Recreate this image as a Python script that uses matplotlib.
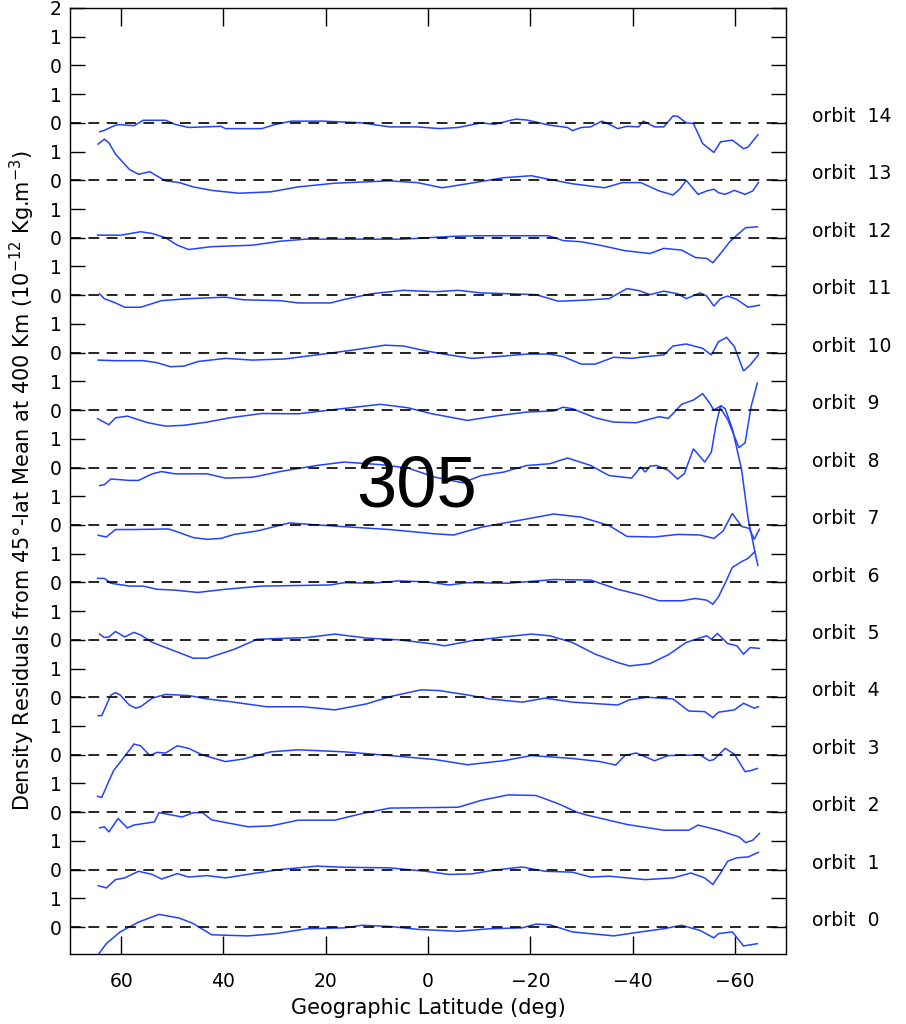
import matplotlib
matplotlib.use("Agg")
import matplotlib.pyplot as plt
import matplotlib.transforms as mtransforms

# ---------------- data (latitude in deg, residual in 1e-12 kg/m^3) ----------------
orbit0_lat = [64.6, 62.9, 60.2, 56.6, 52.6, 48.6, 45.9, 42.3, 35.2, 29.8, 23.6, 16.4, 12.9, 7.5, 2.1, -5.9, -12.1, -18.4, -21.1, -23.8, -28.2, -36.3, -41.6, -46.1, -49.6, -53.2, -55.9, -56.8, -59.5, -61.7, -64.4]
orbit0_val = [-0.99, -0.58, -0.17, 0.17, 0.44, 0.31, 0.12, -0.27, -0.31, -0.23, -0.06, -0.03, 0.06, 0.02, -0.08, -0.15, -0.06, -0.03, 0.10, 0.08, -0.17, -0.31, -0.17, -0.06, 0.06, -0.12, -0.38, -0.23, -0.17, -0.66, -0.58]

orbit1_lat = [64.5, 62.9, 61.1, 59.3, 56.6, 53.9, 52.1, 49.0, 46.8, 43.2, 39.6, 34.3, 28.9, 21.8, 16.4, 7.5, 0.4, -4.1, -8.6, -13.0, -18.4, -22.9, -28.2, -31.8, -35.4, -42.5, -47.9, -51.4, -54.1, -55.7, -57.2, -58.6, -60.4, -62.6, -64.6]
orbit1_val = [-0.56, -0.64, -0.35, -0.29, -0.06, -0.17, -0.33, -0.14, -0.26, -0.21, -0.29, -0.14, 0.00, 0.12, 0.08, 0.06, -0.06, -0.17, -0.15, -0.02, 0.09, -0.06, -0.09, -0.26, -0.23, -0.35, -0.29, -0.12, -0.29, -0.52, -0.12, 0.29, 0.41, 0.44, 0.60]

orbit2_lat = [64.2, 63.3, 62.4, 60.6, 58.8, 57.5, 53.5, 52.6, 50.4, 48.1, 45.9, 44.1, 42.3, 35.2, 30.7, 25.4, 18.2, 12.9, 7.5, -5.9, -10.4, -15.7, -21.1, -25.5, -29.1, -31.0, -38.9, -46.1, -51.0, -52.8, -56.8, -60.8, -62.1, -63.5, -64.8]
orbit2_val = [-0.55, -0.51, -0.69, -0.22, -0.55, -0.45, -0.34, -0.02, -0.09, -0.17, -0.02, -0.02, -0.27, -0.51, -0.48, -0.28, -0.28, -0.05, 0.14, 0.17, 0.41, 0.60, 0.58, 0.29, 0.00, -0.10, -0.43, -0.63, -0.63, -0.45, -0.63, -0.86, -1.06, -0.98, -0.74]

orbit3_lat = [64.6, 63.8, 61.5, 59.7, 57.5, 56.2, 54.4, 53.0, 51.3, 49.0, 46.8, 44.1, 39.6, 36.1, 30.7, 25.4, 16.4, 7.5, -1.4, -7.7, -14.8, -20.2, -28.2, -33.6, -36.7, -38.5, -40.7, -44.3, -47.0, -53.2, -55.0, -55.9, -58.1, -59.9, -62.0, -63.0, -64.4]
orbit3_val = [-1.45, -1.49, -0.56, -0.15, 0.37, 0.31, -0.03, 0.08, 0.06, 0.31, 0.22, -0.01, -0.24, -0.15, 0.10, 0.17, 0.10, -0.03, -0.17, -0.35, -0.21, -0.03, -0.13, -0.24, -0.36, -0.03, 0.06, -0.21, -0.03, -0.01, -0.21, -0.17, 0.22, 0.02, -0.59, -0.56, -0.48]

orbit4_lat = [64.5, 63.8, 62.0, 61.1, 60.2, 58.4, 57.1, 56.2, 53.9, 51.3, 46.8, 43.2, 38.8, 31.6, 24.5, 18.2, 12.0, 7.5, 1.3, -2.3, -7.7, -12.1, -18.4, -22.9, -28.2, -37.1, -39.4, -42.9, -47.9, -51.0, -54.1, -55.7, -56.8, -59.9, -61.7, -63.8, -64.6]
orbit4_val = [-0.64, -0.64, 0.08, 0.16, 0.08, -0.27, -0.38, -0.33, -0.03, 0.10, 0.06, -0.06, -0.15, -0.33, -0.33, -0.44, -0.23, 0.02, 0.26, 0.23, 0.08, -0.06, -0.17, -0.03, -0.17, -0.27, -0.09, 0.00, -0.06, -0.48, -0.50, -0.71, -0.52, -0.44, -0.21, -0.38, -0.33]

orbit5_lat = [64.2, 63.3, 62.4, 61.1, 59.3, 57.5, 56.2, 53.9, 50.4, 45.9, 43.2, 37.9, 33.4, 23.6, 18.2, 12.0, 5.7, -1.4, -3.2, -8.6, -14.8, -20.2, -23.8, -28.2, -32.7, -37.1, -39.4, -43.4, -47.0, -50.5, -54.5, -55.4, -56.6, -58.6, -60.4, -61.7, -63.0, -64.8]
orbit5_val = [0.20, 0.08, 0.10, 0.29, 0.10, 0.26, 0.17, -0.09, -0.33, -0.64, -0.64, -0.33, 0.02, 0.08, 0.20, 0.06, 0.00, -0.15, -0.21, -0.03, 0.10, 0.20, 0.14, -0.09, -0.50, -0.79, -0.91, -0.83, -0.52, -0.09, 0.14, 0.02, 0.22, -0.13, -0.21, -0.50, -0.27, -0.30]

orbit6_lat = [64.6, 63.3, 62.0, 58.4, 55.7, 53.0, 49.5, 45.0, 39.6, 32.5, 19.1, 16.4, 11.1, 5.7, 0.4, -4.1, -7.7, -15.7, -24.6, -31.8, -37.1, -41.6, -45.2, -49.6, -52.3, -54.5, -55.7, -56.8, -58.1, -59.5, -61.3, -62.6, -63.9]
orbit6_val = [0.14, 0.14, -0.03, -0.13, -0.13, -0.24, -0.27, -0.35, -0.24, -0.13, -0.09, -0.01, -0.03, 0.05, 0.02, -0.09, -0.01, -0.03, 0.10, 0.08, -0.24, -0.44, -0.64, -0.64, -0.56, -0.62, -0.76, -0.50, -0.03, 0.52, 0.72, 0.84, 1.07]

orbit7_lat = [64.5, 62.9, 61.1, 57.5, 50.8, 49.5, 45.9, 43.2, 40.5, 37.9, 33.4, 27.1, 20.0, 7.5, -1.4, -5.0, -10.4, -17.5, -24.6, -30.0, -35.4, -38.9, -44.3, -48.8, -53.2, -55.9, -57.7, -59.5, -61.3, -62.8, -63.8, -64.8]
orbit7_val = [-0.36, -0.42, -0.16, -0.16, -0.14, -0.21, -0.44, -0.50, -0.47, -0.33, -0.21, 0.07, -0.02, -0.16, -0.31, -0.35, -0.08, 0.15, 0.38, 0.27, -0.02, -0.40, -0.42, -0.33, -0.35, -0.47, -0.21, 0.40, -0.05, -0.12, -0.50, -0.15]

orbit8_lat = [64.2, 63.3, 62.0, 58.4, 56.6, 53.9, 52.1, 49.5, 43.2, 39.6, 34.3, 28.9, 21.8, 16.4, 9.3, 3.9, -1.4, -6.8, -10.4, -14.8, -19.3, -23.8, -27.3, -31.8, -35.4, -39.8, -41.6, -42.5, -43.4, -44.7, -47.0, -48.8, -50.1, -51.9, -54.1, -55.4, -56.3, -57.2, -58.1, -59.5, -61.3, -62.6, -64.0, -64.5]
orbit8_val = [-0.63, -0.60, -0.40, -0.45, -0.45, -0.22, -0.14, -0.22, -0.22, -0.37, -0.34, -0.14, 0.07, 0.19, 0.10, -0.02, -0.34, -0.53, -0.28, -0.16, 0.07, 0.13, 0.33, 0.07, -0.28, -0.37, 0.01, -0.16, 0.05, 0.07, -0.10, -0.40, -0.22, 0.65, 0.19, 0.53, 1.47, 2.16, 2.05, 1.35, -0.05, -1.79, -3.00, -3.41]

orbit9_lat = [64.6, 62.4, 61.1, 58.8, 54.8, 51.3, 47.7, 43.2, 38.8, 32.5, 25.4, 18.2, 9.3, 3.9, -0.5, -7.7, -13.9, -19.3, -24.6, -26.4, -28.2, -32.7, -36.3, -40.7, -45.2, -47.0, -49.6, -51.9, -53.7, -55.0, -55.9, -57.0, -58.6, -60.8, -62.0, -63.2, -64.4]
orbit9_val = [-0.30, -0.51, -0.27, -0.21, -0.44, -0.56, -0.53, -0.42, -0.27, -0.12, -0.13, 0.02, 0.20, 0.08, -0.12, -0.36, -0.19, -0.07, -0.03, 0.10, 0.05, -0.27, -0.42, -0.44, -0.23, -0.29, 0.20, 0.35, 0.57, 0.26, 0.00, 0.12, -0.33, -1.31, -1.14, 0.14, 0.94]

orbit10_lat = [64.5, 61.1, 55.7, 53.0, 50.4, 47.7, 45.0, 39.6, 34.3, 28.0, 21.8, 14.6, 8.4, 4.8, 0.4, -4.1, -8.6, -14.8, -19.3, -23.8, -26.4, -30.0, -32.7, -36.3, -39.8, -42.5, -46.1, -47.9, -50.5, -53.7, -55.4, -56.8, -58.4, -59.9, -61.7, -63.0, -64.6]
orbit10_val = [-0.26, -0.28, -0.28, -0.35, -0.49, -0.47, -0.31, -0.20, -0.26, -0.22, -0.08, 0.09, 0.26, 0.23, 0.06, -0.08, -0.20, -0.12, -0.05, -0.05, -0.14, -0.40, -0.40, -0.16, -0.20, -0.14, -0.08, 0.23, 0.30, 0.15, -0.08, 0.38, 0.53, 0.21, -0.64, -0.43, -0.08]

orbit11_lat = [64.2, 63.3, 61.1, 59.3, 56.2, 52.1, 46.8, 39.6, 36.1, 28.9, 25.4, 19.1, 16.4, 11.1, 4.8, -1.4, -5.9, -10.4, -21.1, -25.5, -30.9, -35.4, -38.9, -41.2, -43.4, -46.1, -48.8, -50.5, -53.2, -54.5, -55.9, -57.2, -58.6, -60.4, -62.6, -64.8]
orbit11_val = [0.05, -0.12, -0.27, -0.42, -0.42, -0.19, -0.12, -0.07, -0.16, -0.19, -0.27, -0.27, -0.15, 0.05, 0.17, 0.12, 0.17, 0.08, 0.02, -0.21, -0.17, -0.12, 0.23, 0.16, 0.02, 0.14, 0.05, -0.12, 0.08, -0.03, -0.38, -0.12, -0.03, -0.15, -0.42, -0.35]

orbit12_lat = [64.6, 60.0, 56.2, 54.0, 51.3, 49.0, 46.8, 42.3, 34.3, 28.9, 24.0, 15.0, 5.0, -5.0, -10.0, -16.0, -23.5, -26.5, -30.0, -33.6, -38.5, -43.4, -46.1, -49.6, -52.3, -54.5, -55.7, -57.2, -59.0, -60.4, -62.1, -64.4]
orbit12_val = [0.09, 0.09, 0.21, 0.15, 0.00, -0.26, -0.41, -0.31, -0.26, -0.12, -0.05, -0.05, -0.05, 0.05, 0.07, 0.07, 0.07, -0.10, -0.14, -0.26, -0.45, -0.55, -0.37, -0.43, -0.69, -0.72, -0.87, -0.55, -0.14, 0.09, 0.35, 0.38]

orbit13_lat = [64.5, 63.3, 62.4, 61.1, 58.4, 56.6, 54.4, 53.0, 51.3, 48.6, 45.9, 42.3, 37.0, 30.7, 25.4, 18.2, 7.5, 2.1, -2.8, -7.7, -14.8, -20.2, -23.8, -28.2, -34.5, -38.0, -41.6, -45.2, -47.9, -49.2, -50.5, -52.8, -54.5, -55.9, -56.8, -58.1, -59.9, -62.0, -63.5, -64.6]
orbit13_val = [1.26, 1.43, 1.31, 0.91, 0.38, 0.21, 0.30, 0.15, -0.02, -0.08, -0.23, -0.35, -0.45, -0.40, -0.23, -0.10, -0.02, -0.08, -0.26, -0.12, 0.09, 0.16, 0.03, -0.12, -0.26, -0.08, -0.08, -0.37, -0.51, -0.31, 0.00, -0.49, -0.37, -0.31, -0.43, -0.49, -0.35, -0.49, -0.37, -0.08]

orbit14_lat = [64.2, 63.3, 61.1, 60.2, 57.5, 55.7, 51.3, 49.5, 46.8, 40.5, 39.6, 32.5, 29.8, 26.7, 20.4, 16.4, 12.9, 7.5, 2.1, -2.3, -5.9, -10.4, -13.0, -17.1, -19.3, -23.8, -27.3, -28.2, -30.0, -31.8, -34.0, -35.4, -37.1, -38.9, -41.2, -42.1, -44.3, -46.1, -47.9, -48.8, -50.5, -51.9, -53.7, -55.9, -57.2, -59.5, -61.7, -62.6, -64.5]
orbit14_val = [-0.31, -0.26, -0.08, -0.06, -0.10, 0.09, 0.09, -0.05, -0.16, -0.12, -0.20, -0.20, -0.05, 0.06, 0.06, 0.03, 0.00, -0.14, -0.14, -0.20, -0.16, 0.00, -0.05, 0.13, 0.10, -0.08, -0.16, -0.27, -0.16, -0.14, 0.06, -0.05, -0.20, -0.12, -0.14, 0.06, -0.14, -0.14, 0.24, 0.23, 0.00, -0.02, -0.72, -1.03, -0.66, -0.60, -0.90, -0.84, -0.41]

orbit_labels = ["orbit  %d" % k for k in range(15)]
xtick_values = [60, 40, 20, 0, -20, -40, -60]
annotation_text = "305"

orbits = [
    (orbit0_lat, orbit0_val), (orbit1_lat, orbit1_val), (orbit2_lat, orbit2_val),
    (orbit3_lat, orbit3_val), (orbit4_lat, orbit4_val), (orbit5_lat, orbit5_val),
    (orbit6_lat, orbit6_val), (orbit7_lat, orbit7_val), (orbit8_lat, orbit8_val),
    (orbit9_lat, orbit9_val), (orbit10_lat, orbit10_val), (orbit11_lat, orbit11_val),
    (orbit12_lat, orbit12_val), (orbit13_lat, orbit13_val), (orbit14_lat, orbit14_val),
]
spacing = 2.0

# ---------------- figure ----------------
fig = plt.figure(figsize=(9.06, 10.24), dpi=100)
ax = fig.add_axes([70 / 906, 1 - 954 / 1024, 716 / 906, 946 / 1024])

blue = "#2342ff"
label_tf = mtransforms.blended_transform_factory(ax.transAxes, ax.transData)
for k, (lat, val) in enumerate(orbits):
    off = k * spacing
    ax.plot(lat, [v + off for v in val], color=blue, lw=1.1, zorder=2,
            solid_joinstyle="miter")
    ax.axhline(off, color="black", lw=1.2, dashes=(6.5, 4.5), zorder=3)
    ax.text(1.036, off + 0.22, orbit_labels[k], transform=label_tf,
            ha="left", va="center", fontsize=13.5, clip_on=False)

ax.set_xlim(70, -70)
ax.set_ylim(-0.94, 32.0)

ax.set_xticks(xtick_values)
ax.set_xticklabels(["%d" % v if v >= 0 else "\u2212%d" % (-v) for v in xtick_values])
yt = list(range(0, 33))
ax.set_yticks(yt)
ax.set_yticklabels(["2" if t == 32 else ("0" if t % 2 == 0 else "1") for t in yt])

ax.tick_params(axis="x", direction="in", length=13, width=1.0, top=True, bottom=True,
               labelsize=13.5, pad=13)
ax.tick_params(axis="y", direction="in", length=11, width=1.0, left=True, right=True,
               labelsize=13.5, pad=6)
for s in ax.spines.values():
    s.set_linewidth(1.0)

ax.set_xlabel("Geographic Latitude (deg)", fontsize=15, labelpad=5)
ax.set_ylabel(r"Density Residuals from 45$\degree$-lat Mean at 400 Km (10$^{-12}$ Kg.m$^{-3}$)",
              fontsize=15, labelpad=9)

fig.text(417 / 906, 1 - 488 / 1024, annotation_text, fontsize=52, family="Liberation Sans",
         ha="center", va="center")

fig.savefig("out.png", dpi=100)
